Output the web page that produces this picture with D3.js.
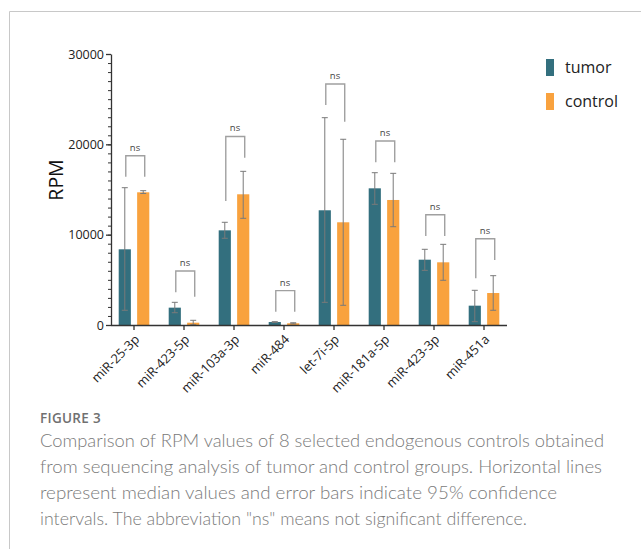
<!DOCTYPE html>
<html>
<head>
<meta charset="utf-8">
<script src="https://cdn.jsdelivr.net/npm/d3@7"></script>
<style>
  html, body { margin: 0; padding: 0; background: #fff; }
  svg { display: block; }
</style>
</head>
<body>
<svg id="chart" width="641" height="549"></svg>
<script>
// miRNA candidates and group statistics (RPM)
const categories = ["miR-25-3p", "miR-423-5p", "miR-103a-3p", "miR-484", "let-7i-5p", "miR-181a-5p", "miR-423-3p", "miR-451a"];
const seriesNames = ["tumor", "control"];
const tumorMedian  = [8380, 1920, 10480, 330, 12700, 15130, 7230, 2140];
const tumorLow     = [1630, 1360, 9600, 290, 2510, 13360, 6050, 370];
const tumorHigh    = [15200, 2510, 11370, 370, 22950, 16860, 8380, 3840];
const controlMedian = [14690, 255, 14470, 190, 11370, 13840, 6940, 3540];
const controlLow    = [14560, 20, 11810, 130, 2180, 10880, 4950, 1630];
const controlHigh   = [14870, 520, 17010, 250, 20560, 16790, 8930, 5460];
// significance brackets: top of bracket and leg ends (RPM)
const bracketTop   = [18740, 5980, 20870, 3800, 26680, 20370, 12210, 9550];
const bracketLeft  = [16420, 3620, 13730, 1470, 24350, 18010, 9850, 5170];
const bracketRight = [16420, 3130, 18520, 1470, 22500, 18010, 9850, 7200];
const bracketText  = ["ns", "ns", "ns", "ns", "ns", "ns", "ns", "ns"];
const yTicks = [0, 10000, 20000, 30000];

const colors = { tumor: "#336f7e", control: "#f9a23e" };
const svg = d3.select("#chart");
const font = "'Open Sans', 'Noto Sans', sans-serif";

// frame around the figure
svg.append("path")
  .attr("d", "M9.5,549 V11.5 H641")
  .attr("fill", "none").attr("stroke", "#c8c8c8").attr("stroke-width", 1);

const y = d3.scaleLinear().domain([0, 30000]).range([325, 54]);
const x = d3.scaleBand().domain(categories).range([109, 509]).padding(0);
const xs = d3.scaleBand().domain(seriesNames).range([9.7, 40.3]).paddingInner(0.34).paddingOuter(0);

const rows = categories.map((c, i) => ({
  cat: c,
  vals: [
    { s: "tumor", v: tumorMedian[i], lo: tumorLow[i], hi: tumorHigh[i] },
    { s: "control", v: controlMedian[i], lo: controlLow[i], hi: controlHigh[i] }
  ],
  top: bracketTop[i], left: bracketLeft[i], right: bracketRight[i], label: bracketText[i]
}));

// bars
const g = svg.append("g");
const grp = g.selectAll("g.grp").data(rows).join("g")
  .attr("class", "grp")
  .attr("transform", d => `translate(${x(d.cat)},0)`);

grp.selectAll("rect").data(d => d.vals).join("rect")
  .attr("x", d => xs(d.s))
  .attr("width", xs.bandwidth())
  .attr("y", d => y(d.v))
  .attr("height", d => y(0) - y(d.v))
  .attr("fill", d => colors[d.s]);

// error bars
const cx = s => xs(s) + xs.bandwidth() / 2;
const eb = grp.selectAll("g.eb").data(d => d.vals).join("g").attr("class", "eb")
  .attr("stroke", "#7a7a7a").attr("stroke-width", 1).attr("fill", "none");
eb.append("line")
  .attr("x1", d => cx(d.s)).attr("x2", d => cx(d.s))
  .attr("y1", d => y(d.lo)).attr("y2", d => y(d.hi));
eb.append("line")
  .attr("x1", d => cx(d.s) - 3).attr("x2", d => cx(d.s) + 3)
  .attr("y1", d => y(d.hi)).attr("y2", d => y(d.hi));
eb.append("line")
  .attr("x1", d => cx(d.s) - 3).attr("x2", d => cx(d.s) + 3)
  .attr("y1", d => y(d.lo)).attr("y2", d => y(d.lo));

// significance brackets
grp.append("path")
  .attr("d", d => `M${cx("tumor") + 1},${y(d.left)} V${y(d.top)} H${cx("control") + 1.5} V${y(d.right)}`)
  .attr("fill", "none").attr("stroke", "#a0a0a0").attr("stroke-width", 1.4);
grp.append("text")
  .attr("x", d => (cx("tumor") + cx("control")) / 2 + 1)
  .attr("y", d => y(d.top) - 5)
  .attr("text-anchor", "middle")
  .attr("font-family", font).attr("font-size", 9.5).attr("fill", "#444")
  .text(d => d.label);

// y axis with minor ticks
const yAxisG = svg.append("g").attr("transform", "translate(111,0)");
yAxisG.call(d3.axisLeft(y).tickValues(d3.range(0, 30001, 1000)).tickSize(3).tickFormat(""))
  .call(a => a.select(".domain").remove())
  .call(a => a.selectAll("line").attr("stroke", "#333"));
yAxisG.append("g")
  .call(d3.axisLeft(y).tickValues(yTicks).tickSize(5).tickSizeOuter(0).tickPadding(2).tickFormat(d3.format("d")))
  .call(a => a.select(".domain").attr("stroke", "#333").attr("stroke-width", 1.3))
  .call(a => a.selectAll("line").attr("stroke", "#333").attr("stroke-width", 1.3))
  .call(a => a.selectAll("text").attr("font-family", font).attr("font-size", 12.5).attr("fill", "#222"));

// x axis
const xAxisG = svg.append("g").attr("transform", "translate(0,325)");
xAxisG.call(d3.axisBottom(x).tickSize(5).tickSizeOuter(0))
  .call(a => a.select(".domain").attr("d", "M111,0.5H507").attr("stroke", "#333").attr("stroke-width", 1.3))
  .call(a => a.selectAll("line").attr("stroke", "#333").attr("stroke-width", 1.3))
  .call(a => a.selectAll("text")
    .attr("font-family", font).attr("font-size", 12.8).attr("fill", "#222")
    .attr("text-anchor", "end").attr("x", 0).attr("y", 0).attr("dy", "0.35em")
    .attr("transform", "translate(3,12) rotate(-45)"));

// y-axis title
svg.append("text")
  .attr("transform", "translate(63,180) rotate(-90)")
  .attr("text-anchor", "middle")
  .attr("font-family", font).attr("font-size", 19.5).attr("fill", "#111")
  .text("RPM");

// legend
const leg = svg.append("g").attr("transform", "translate(546,59)");
const li = leg.selectAll("g").data(seriesNames).join("g")
  .attr("transform", (d, i) => `translate(0,${i * 34})`);
li.append("rect").attr("width", 8).attr("height", 17).attr("fill", d => colors[d]);
li.append("text").attr("x", 19).attr("y", 14)
  .attr("font-family", font).attr("font-size", 16).attr("fill", "#222")
  .text(d => d);

// caption
svg.append("text")
  .attr("x", 40).attr("y", 423)
  .attr("font-family", font).attr("font-size", 13.5).attr("font-weight", 600)
  .attr("fill", "#707070").attr("letter-spacing", 0.3)
  .text("FIGURE 3");

const captionLines = [
  ["Comparison of RPM values of 8 selected endogenous controls obtained", 564],
  ["from sequencing analysis of tumor and control groups. Horizontal lines", 562],
  ["represent median values and error bars indicate 95% confidence", 517],
  ["intervals. The abbreviation \"ns\" means not significant difference.", 487]
];
svg.selectAll("text.cap").data(captionLines).join("text")
  .attr("class", "cap")
  .attr("x", 40).attr("y", (d, i) => 447 + i * 26)
  .attr("font-family", "Lato, 'Open Sans', sans-serif").attr("font-weight", 300)
  .attr("font-size", 17).attr("fill", "#7a7a7a")
  .attr("textLength", d => d[1]).attr("lengthAdjust", "spacingAndGlyphs")
  .text(d => d[0]);
</script>
</body>
</html>
